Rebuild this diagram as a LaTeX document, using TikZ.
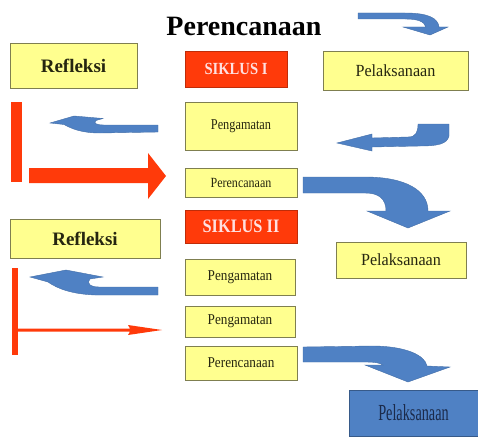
\documentclass[tikz,border=0pt]{standalone}
\usepackage{fontspec}
\setmainfont{Liberation Serif}
\definecolor{boxyellow}{HTML}{FFFF8F}
\definecolor{boxedge}{HTML}{7F7F50}
\definecolor{siklusred}{HTML}{FF3A0A}
\definecolor{arrowblue}{HTML}{4F81C4}
\definecolor{textdark}{HTML}{262610}
\definecolor{textnavy}{HTML}{1B2A4A}
\newcommand{\condtext}[2]{\scalebox{#1}[1]{#2}}
\newcommand{\fsz}[1]{\fontsize{#1}{#1}\selectfont}
\tikzset{
  yellowbox/.style={draw=boxedge, fill=boxyellow, line width=0.8pt, text=textdark, inner sep=0pt},
  redbox/.style={draw=siklusred!75!black, fill=siklusred, line width=0.8pt, text=white!88!red, inner sep=0pt},
  bluebox/.style={draw=arrowblue!70!black, fill=arrowblue, line width=0.8pt, text=textnavy, inner sep=0pt},
  bluearrow/.style={fill=arrowblue, draw=arrowblue!85!black, line width=0.4pt},
}
\begin{document}
\begin{tikzpicture}[x=1pt, y=-1pt]
    \useasboundingbox (0,0) rectangle (478,436);
    \node (title) at (244,26) {\fsz{28}\bfseries Perencanaan};
    % siklus I
    \node[yellowbox, minimum width=127pt, minimum height=45pt] (refleksiA) at (73.5,65.5) {\fsz{19}\bfseries Refleksi};
    \node[redbox, minimum width=102pt, minimum height=36pt] (siklusA) at (236,69) {\fsz{17}\bfseries\condtext{0.86}{SIKLUS I}};
    \node[yellowbox, minimum width=145pt, minimum height=39pt] (pelaksanaanA) at (395.5,70.5) {\fsz{17}\condtext{0.95}{Pelaksanaan}};
    \node[yellowbox, minimum width=112pt, minimum height=48pt] (pengamatanA) at (241,126) {\fsz{15}\condtext{0.82}{Pengamatan}};
    \node[yellowbox, minimum width=112pt, minimum height=29pt] (perencanaanA) at (241,182.5) {\fsz{14}\condtext{0.86}{Perencanaan}};
    \fill[siklusred] (11,102) rectangle (22,182);
    \fill[siklusred] (29,168) -- (148,168) -- (148,153) -- (166,176) -- (148,199) -- (148,183) -- (29,183) -- cycle;
    \filldraw[bluearrow] (358,13) -- (405,13) .. controls (428,13) and (438,18) .. (439,27) -- (448,27) -- (430,35) -- (403,27) -- (426,27) .. controls (424,21) and (417,19) .. (405,19) -- (358,19) -- cycle;
    \filldraw[bluearrow] (449,124) -- (449,136) .. controls (447,144) and (438,146) .. (420,146) -- (372,147) -- (372,151) -- (337,143) -- (372,134) -- (372,138) -- (408,137) .. controls (416,137) and (418,132) .. (418,124) -- cycle;
    \filldraw[bluearrow] (158,125) -- (158,132) -- (100,133) .. controls (82,133) and (72,129) .. (64,124.5) -- (50,123) -- (74,116) -- (103,118.5) -- (96,120.5) .. controls (93,123) and (96,125) .. (104,125) -- cycle;
    \filldraw[bluearrow] (303,177) -- (365,177) .. controls (405,177) and (428,190) .. (428,211) -- (450,211) -- (408,228) -- (367,211) -- (386,211) .. controls (386,199) and (379,193) .. (365,193) -- (303,193) -- cycle;
    % siklus II
    \node[redbox, minimum width=112pt, minimum height=33pt] (siklusB) at (241,226.5) {\fsz{19}\bfseries\condtext{0.86}{SIKLUS II}};
    \node[yellowbox, minimum width=130pt, minimum height=36pt] (pelaksanaanB) at (401,260) {\fsz{17}\condtext{0.95}{Pelaksanaan}};
    \node[yellowbox, minimum width=150pt, minimum height=39pt] (refleksiB) at (85,238.5) {\fsz{19}\bfseries Refleksi};
    \node[yellowbox, minimum width=110pt, minimum height=36pt] (pengamatanB) at (240,277) {\fsz{15}\condtext{0.88}{Pengamatan}};
    \node[yellowbox, minimum width=110pt, minimum height=31pt] (pengamatanC) at (240,321.5) {\fsz{15}\condtext{0.88}{Pengamatan}};
    \node[yellowbox, minimum width=112pt, minimum height=34pt] (perencanaanB) at (241,363) {\fsz{15}\condtext{0.88}{Perencanaan}};
    \node[bluebox, minimum width=129pt, minimum height=46pt] (pelaksanaanC) at (413.5,413) {\fsz{23}\condtext{0.62}{Pelaksanaan}};
    \fill[siklusred] (12,268) rectangle (18,355);
    \fill[siklusred] (18,328.5) -- (130,328.5) -- (128,325) -- (162,330) -- (128,335) -- (130,331.5) -- (18,331.5) -- cycle;
    \filldraw[bluearrow] (158,287) -- (158,295) -- (95,295) .. controls (72,294) and (58,289) .. (48,282) -- (30,277) -- (66,270) -- (103,277) -- (90,279) .. controls (86,283) and (90,287) .. (99,287) -- cycle;
    \filldraw[bluearrow] (303,347) -- (372,346) .. controls (405,346) and (425,355) .. (427,366) -- (450,367) -- (408,382) -- (365,365) -- (383,365) .. controls (380,363) and (375,362) .. (365,362) -- (303,362) -- cycle;
\end{tikzpicture}
\end{document}
